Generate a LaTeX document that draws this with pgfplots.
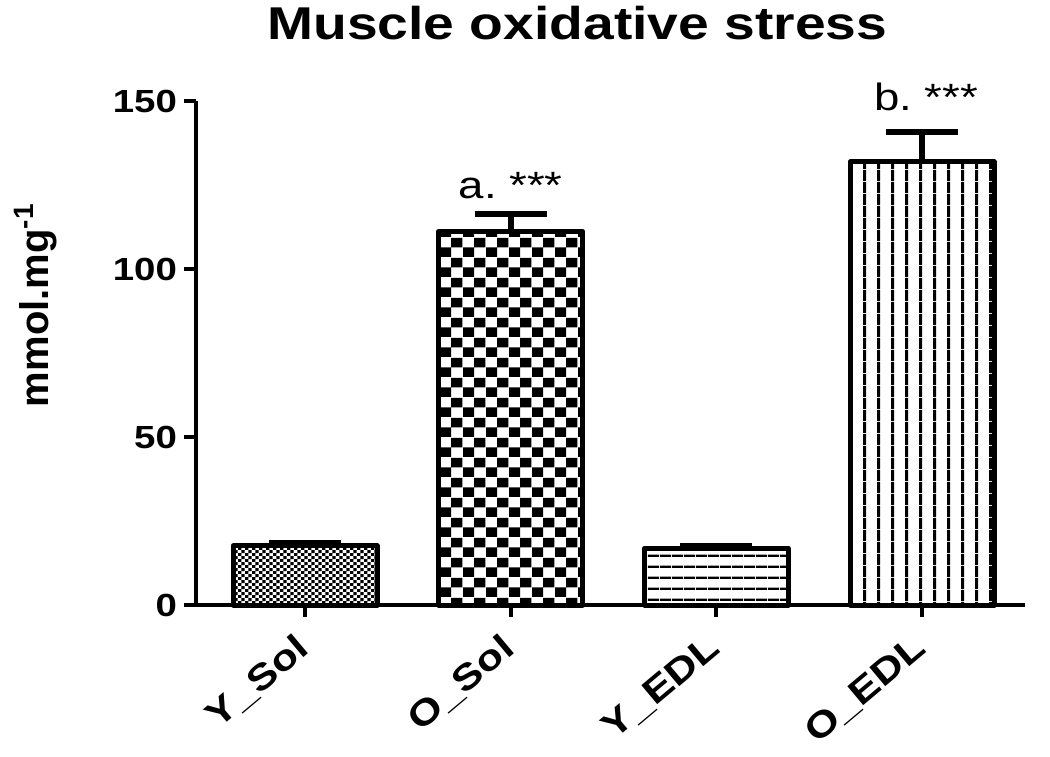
\documentclass[border=0pt]{standalone}
\usepackage{fontspec}
\setmainfont{Liberation Sans}
\newfontfamily\sfont{Liberation Sans}[FakeStretch=1.2]
\usepackage{pgfplots}
\usepackage{pgfplotstable}
\pgfplotsset{compat=1.18}
\usetikzlibrary{patterns}

\pgfdeclarepatternformonly{finecheck}{\pgfpointorigin}{\pgfpoint{3.4pt}{3.2pt}}{\pgfpoint{3.4pt}{3.2pt}}{%
  \pgfpathrectangle{\pgfpointorigin}{\pgfpoint{1.7pt}{1.6pt}}%
  \pgfpathrectangle{\pgfpoint{1.7pt}{1.6pt}}{\pgfpoint{1.7pt}{1.6pt}}%
  \pgfusepath{fill}}
\pgfdeclarepatternformonly{bigcheck}{\pgfpointorigin}{\pgfpoint{11.6pt}{10pt}}{\pgfpoint{11.6pt}{10pt}}{%
  \pgfpathrectangle{\pgfpointorigin}{\pgfpoint{5.8pt}{5pt}}%
  \pgfpathrectangle{\pgfpoint{5.8pt}{5pt}}{\pgfpoint{5.8pt}{5pt}}%
  \pgfusepath{fill}}
\pgfdeclarepatternformonly{hlines}{\pgfpointorigin}{\pgfpoint{6pt}{5.6pt}}{\pgfpoint{6pt}{5.6pt}}{%
  \pgfpathrectangle{\pgfpointorigin}{\pgfpoint{6pt}{1.2pt}}%
  \pgfusepath{fill}}
\pgfdeclarepatternformonly{vlines}{\pgfpointorigin}{\pgfpoint{7.2pt}{6pt}}{\pgfpoint{7.2pt}{6pt}}{%
  \pgfpathrectangle{\pgfpointorigin}{\pgfpoint{1.6pt}{6pt}}%
  \pgfusepath{fill}}

\pgfplotstableread{
x y e
0 17.6 1.0
}\ysol
\pgfplotstableread{
x y e
1 111.2 5.2
}\osol
\pgfplotstableread{
x y e
2 16.9 0.7
}\yedl
\pgfplotstableread{
x y e
3 131.9 8.9
}\oedl

\pgfplotsset{
  mybar/.style={ybar, bar width=0.7, bar shift=0pt, draw=black, line width=2.5pt,
    line join=round,
    error bars/y dir=plus, error bars/y explicit,
    error bars/error bar style={line width=3pt, black},
    error bars/error mark options={rotate=90, mark size=18pt, line width=3pt, black}},
}

\begin{document}
\begin{tikzpicture}
\begin{axis}[
  scale only axis, width=414.5pt, height=252pt,
  xmin=-0.53, xmax=3.5, ymin=0, ymax=150,
  clip=false,
  axis x line*=bottom, axis y line*=left,
  axis line style={line width=2pt, black},
  xtick={0,1,2,3}, xticklabels={Y\_Sol,O\_Sol,Y\_EDL,O\_EDL},
  ytick={0,50,100,150},
  tick style={line width=2pt, black}, major tick length=6pt, tick align=outside,
  /pgf/number format/assume math mode=true,
  yticklabel style={font=\sfont\bfseries\fontsize{16}{19}\selectfont},
  xticklabel style={font=\sfont\bfseries\fontsize{18}{21}\selectfont, xshift=2pt, yshift=-11pt, rotate=40, anchor=east},
  ylabel={mmol.mg\textsuperscript{-1}},
  ylabel style={font=\bfseries\fontsize{20}{24}\selectfont, at={(axis description cs:-0.194,0.595)}, anchor=center},
  title={Muscle oxidative stress},
  title style={font=\sfont\bfseries\fontsize{23}{27}\selectfont, at={(axis description cs:0.46,1.13)}, anchor=center},
]
\coordinate (ll) at (rel axis cs:0,0);
\coordinate (ur) at (rel axis cs:1,1);
\addplot[mybar, pattern=finecheck] table[x=x, y=y, y error=e]{\ysol};
\addplot[mybar, pattern=bigcheck] table[x=x, y=y, y error=e]{\osol};
\addplot[mybar, pattern=hlines] table[x=x, y=y, y error=e]{\yedl};
\addplot[mybar, pattern=vlines] table[x=x, y=y, y error=e]{\oedl};
\node[font=\sfont\fontsize{19}{22}\selectfont, anchor=base] at (axis cs:1,121) {a.\ ***};
\node[font=\sfont\fontsize{19}{22}\selectfont, anchor=base] at (axis cs:3.02,147.3) {b.\ ***};
\end{axis}
\path ([shift={(-98pt,-70pt)}]ll) rectangle ([shift={(12.5pt,50.5pt)}]ur);
\end{tikzpicture}
\end{document}
